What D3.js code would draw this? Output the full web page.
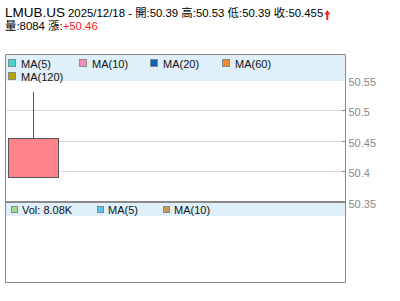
<!DOCTYPE html>
<html><head><meta charset="utf-8">
<script src="https://cdn.jsdelivr.net/npm/d3@7"></script>
<style>
html,body{margin:0;padding:0;background:#fff;}
svg{display:block;font-family:"Liberation Sans",Arial,"Noto Sans CJK TC",sans-serif;}
</style></head><body>
<svg id="c" width="400" height="301"></svg>
<script>
const symbol = "LMUB.US";
const dates = ["2025/12/18"];
const opens = [50.39];
const highs = [50.53];
const lows = [50.39];
const closes = [50.455];
const volumes = [8084];
const change = "+50.46";
const yTicks = [50.35, 50.4, 50.45, 50.5, 50.55];
const maLabels = ["MA(5)", "MA(10)", "MA(20)", "MA(60)", "MA(120)"];
const maColors = ["#44d4d4", "#f590b4", "#0a64b8", "#f38a2a", "#b0a400"];
const volLabels = ["Vol: 8.08K", "MA(5)", "MA(10)"];
const volColors = ["#a6dc8e", "#5cc4f0", "#c89858"];

const svg = d3.select("#c");
const L = 5, R = 345, T = 54, SEP = 202, B = 282;

// header
const h1 = svg.append("text").attr("x", 5).attr("y", 17);
h1.append("tspan").attr("font-size", 13.5).text(symbol);
h1.append("tspan").attr("font-size", 11.4).attr("dx", 3)
  .text(`${dates[0]} - 開:${opens[0]} 高:${highs[0]} 低:${lows[0]} 收:${closes[0]}`);
const bb = h1.node().getBBox();
const ax = bb.x + bb.width + 1;
svg.append("path")
  .attr("d", `M${ax},14.5 L${ax+3},10 L${ax+6},14.5 Z M${ax+2},14 h2 v6 h-2 Z`)
  .attr("fill", "#f22");
const h2 = svg.append("text").attr("x", 5).attr("y", 30).attr("font-size", 11.4);
h2.append("tspan").text(`量:${volumes[0]} 漲:`);
h2.append("tspan").attr("fill", "#f22").text(change);

// scales
const y = d3.scaleLinear().domain([50.35, 50.55]).range([201.5, 80]);
const x = d3.scaleBand().domain(dates).range([8, 58]).padding(0);

// gridlines
svg.append("g").selectAll("line").data(yTicks.filter(t => t > 50.35 && t < 50.55))
  .join("line")
  .attr("x1", L).attr("x2", R)
  .attr("y1", d => Math.round(y(d)) + 0.5).attr("y2", d => Math.round(y(d)) + 0.5)
  .attr("stroke", "#dcdcdc");

// legend backgrounds
svg.append("rect").attr("x", L + 1).attr("y", T + 1).attr("width", R - L - 1).attr("height", 26).attr("fill", "#dff0fa");
svg.append("rect").attr("x", L + 1).attr("y", SEP + 1).attr("width", R - L - 1).attr("height", 13).attr("fill", "#dff0fa");

// main legend
const mainPos = [[8, 63], [79, 63], [150, 63], [222, 63], [8, 76]];
maLabels.forEach((lab, i) => {
  const [px, py] = mainPos[i];
  svg.append("rect").attr("x", px + 0.5).attr("y", py - 3.5).attr("width", 7).attr("height", 7)
    .attr("fill", maColors[i]).attr("stroke", "#888");
  svg.append("text").attr("x", px + 13).attr("y", py + 4.5).attr("font-size", 11).attr("fill", "#111").text(lab);
});
// volume legend
const volPos = [11, 97, 163];
volLabels.forEach((lab, i) => {
  const px = volPos[i], py = 209;
  svg.append("rect").attr("x", px + 0.5).attr("y", py - 2.5).attr("width", 6).attr("height", 6)
    .attr("fill", volColors[i]).attr("stroke", "#888");
  svg.append("text").attr("x", px + 11).attr("y", py + 5).attr("font-size", 11).attr("fill", "#111").text(lab);
});

// candle
const cd = dates.map((d, i) => ({d, o: opens[i], h: highs[i], l: lows[i], c: closes[i]}));
svg.append("g").selectAll("line").data(cd).join("line")
  .attr("x1", d => Math.round(x(d.d) + x.bandwidth() / 2) + 0.5)
  .attr("x2", d => Math.round(x(d.d) + x.bandwidth() / 2) + 0.5)
  .attr("y1", d => y(d.h)).attr("y2", d => y(d.l))
  .attr("stroke", "#555");
svg.append("g").selectAll("rect").data(cd).join("rect")
  .attr("x", d => x(d.d) + 0.5)
  .attr("y", d => Math.round(y(Math.max(d.o, d.c))) + 0.5)
  .attr("width", x.bandwidth())
  .attr("height", d => Math.round(Math.abs(y(d.o) - y(d.c))))
  .attr("fill", "#ff838a").attr("stroke", "#555");

// frame
svg.append("path").attr("d", `M${L+0.5},${T+0.5} H${R+0.5} V${B+0.5} H${L+0.5} Z`)
  .attr("fill", "none").attr("stroke", "#8a8a8a");
svg.append("line").attr("x1", L).attr("x2", R + 1).attr("y1", SEP).attr("y2", SEP)
  .attr("stroke", "#8a8a8a").attr("stroke-width", 2);

// y axis
const axis = d3.axisRight(y).tickValues(yTicks).tickSize(0).tickPadding(3).tickFormat(d3.format(""));
const gA = svg.append("g").attr("transform", `translate(${R + 0.5},0)`).call(axis);
gA.select(".domain").remove();
gA.selectAll("text").attr("font-size", 11).attr("fill", "#888").attr("font-family", "Liberation Sans, Arial, sans-serif").attr("dy", "0.5em");
svg.append("g").selectAll("line").data(yTicks.filter(t => t > 50.35 && t < 50.55)).join("line")
  .attr("x1", R - 3).attr("x2", R)
  .attr("y1", d => Math.round(y(d)) + 0.5).attr("y2", d => Math.round(y(d)) + 0.5)
  .attr("stroke", "#8a8a8a");
</script></body></html>
